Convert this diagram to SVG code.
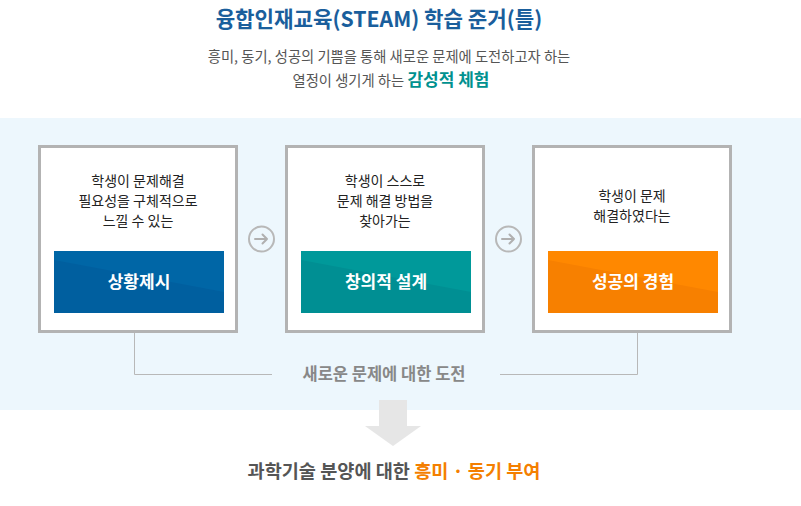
<svg xmlns="http://www.w3.org/2000/svg" width="801" height="506" viewBox="0 0 801 506">
<style>
text{font-family:"Noto Sans CJK KR","Noto Sans",sans-serif;text-anchor:middle}
.box{fill:#fff;stroke:#b3b3b3;stroke-width:3}
.desc{font-size:14px;fill:#222}
.lbl{font-size:17px;font-weight:bold;fill:#fff}
.circ{fill:none;stroke:#b8b8b8;stroke-width:2}
.arr{fill:none;stroke:#b0b0b0;stroke-width:2;stroke-linecap:round;stroke-linejoin:round}
.conn{fill:none;stroke:#b8b8b8;stroke-width:1}
</style>
<rect x="0" y="0" width="801" height="506" fill="#fff"/>
<rect x="0" y="118" width="801" height="292" fill="#edf7fd"/>
<g id="title">
<text x="379" y="27" font-size="21.2" font-weight="bold" fill="#1a5e9c">융합인재교육(STEAM) 학습 준거(틀)</text>
<text x="389" y="62" font-size="14.3" fill="#555">흥미, 동기, 성공의 기쁨을 통해 새로운 문제에 도전하고자 하는</text>
<text x="391" y="86" font-size="14.3" fill="#555">열정이 생기게 하는 <tspan font-size="17" font-weight="bold" fill="#00918f">감성적 체험</tspan></text>
</g>
<g id="connectors">
<polyline class="conn" points="134.5,332 134.5,374.5 272,374.5"/>
<polyline class="conn" points="500,374.5 637.5,374.5 637.5,332"/>
<circle class="circ" cx="261.5" cy="239" r="12.5"/>
<path class="arr" d="M255,239 H267 M262.5,234.5 L267,239 L262.5,243.5"/>
<circle class="circ" cx="508.5" cy="239" r="12.5"/>
<path class="arr" d="M502,239 H514 M509.5,234.5 L514,239 L509.5,243.5"/>
<text x="384" y="380" font-size="16.5" font-weight="bold" fill="#888">새로운 문제에 대한 도전</text>
<polygon points="379,400 407,400 407,426 421,426 393,446 365,426 379,426" fill="#e6e6e6"/>
</g>
<g id="node1">
<rect class="box" x="39.5" y="146.5" width="197" height="185"/>
<text class="desc" x="138" y="186">학생이 문제해결</text>
<text class="desc" x="138" y="206">필요성을 구체적으로</text>
<text class="desc" x="138" y="226">느낄 수 있는</text>
<rect x="54" y="251" width="170" height="62" fill="#005f9f"/>
<polygon points="54,251 224,251 224,292 54,260" fill="#0066a6"/>
<text class="lbl" x="139" y="288">상황제시</text>
</g>
<g id="node2">
<rect class="box" x="286.5" y="146.5" width="197" height="185"/>
<text class="desc" x="385" y="186">학생이 스스로</text>
<text class="desc" x="385" y="206">문제 해결 방법을</text>
<text class="desc" x="385" y="226">찾아가는</text>
<rect x="301" y="251" width="170" height="62" fill="#008f93"/>
<polygon points="301,251 471,251 471,292 301,260" fill="#00999a"/>
<text class="lbl" x="386" y="288">창의적 설계</text>
</g>
<g id="node3">
<rect class="box" x="533.5" y="146.5" width="197" height="185"/>
<text class="desc" x="632" y="201">학생이 문제</text>
<text class="desc" x="632" y="221">해결하였다는</text>
<rect x="548" y="251" width="170" height="62" fill="#f78000"/>
<polygon points="548,251 718,251 718,292 548,260" fill="#ff8800"/>
<text class="lbl" x="633" y="288">성공의 경험</text>
</g>
<g id="footer">
<text x="394" y="478" font-size="18.6" font-weight="bold" fill="#555">과학기술 분양에 대한 <tspan fill="#f47f00">흥미 · 동기 부여</tspan></text>
</g>
</svg>
